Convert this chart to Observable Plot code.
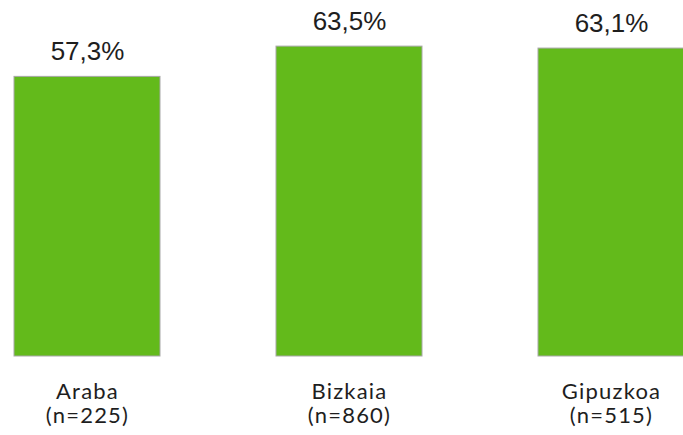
<!DOCTYPE html>
<html><head><meta charset="utf-8">
<script src="https://cdn.jsdelivr.net/npm/d3@7"></script>
<script src="https://cdn.jsdelivr.net/npm/@observablehq/plot@0.6"></script>
<style>html,body{margin:0;padding:0;background:#fff;overflow:hidden}</style>
</head><body><div id="chart"></div>
<script>
const categories = ["Araba", "Bizkaia", "Gipuzkoa"];
const sampleSizes = [225, 860, 515];
const values = [57.3, 63.5, 63.1];
const valueLabels = ["57,3%", "63,5%", "63,1%"];

const data = categories.map((c, i) => ({
  category: c,
  value: values[i],
  label: valueLabels[i],
  nLabel: `(n=${sampleSizes[i]})`
}));

const k = 4.88;
const chart = Plot.plot({
  width: 683, height: 435, margin: 0,
  style: {background: "#fff"},
  x: {domain: categories, range: [-44, 742], paddingInner: 0.443, paddingOuter: 0.2215, axis: null},
  y: {domain: [0, 100], range: [356, 356 - 100 * k], axis: null},
  marks: [
    Plot.barY(data, {x: "category", y: "value", fill: "#63ba1b", stroke: "#a8a8a8", strokeWidth: 1}),
    Plot.text(data, {x: "category", y: "value", text: "label", lineAnchor: "bottom", dy: -17,
      fontSize: 26, fontFamily: "'Liberation Sans', sans-serif", fill: "#1e1e1e"}),
    Plot.text(data, {x: "category", y: 0, text: "category", lineAnchor: "bottom", dy: 42,
      fontSize: 22, fontFamily: "Lato", fill: "#1e1e1e", style: "letter-spacing:1px"}),
    Plot.text(data, {x: "category", y: 0, text: "nLabel", lineAnchor: "bottom", dy: 66.5,
      fontSize: 22, fontFamily: "Lato", fill: "#1e1e1e"})
  ]
});
chart.querySelectorAll("text").forEach(t => {
  const fs = t.closest("g[font-size]");
  if (fs && fs.getAttribute("font-size") === "22") t.style.letterSpacing = "1.2px";
});
document.getElementById("chart").append(chart);
</script>
</body></html>
